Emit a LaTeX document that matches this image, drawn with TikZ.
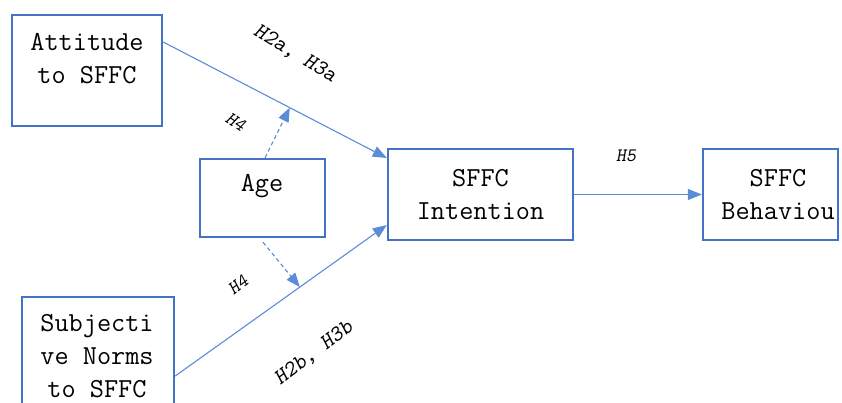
\documentclass[tikz,border=0pt]{standalone}
\usetikzlibrary{arrows.meta,calc}
\definecolor{boxblue}{HTML}{4472C4}
\definecolor{lineblue}{HTML}{5B8CD8}
\begin{document}
\begin{tikzpicture}[x=1pt,y=-1pt,
  box/.style={draw=boxblue,line width=2.4pt,inner sep=0pt},
  txt/.style={font=\ttfamily\fontsize{27.5}{33}\selectfont,align=center,inner sep=0pt},
  lab/.style={font=\ttfamily\slshape\fontsize{22}{24}\selectfont,inner sep=0pt},
  labs/.style={font=\ttfamily\slshape\fontsize{19}{20}\selectfont,inner sep=0pt},
  conn/.style={draw=lineblue,line width=1.1pt,-{Triangle[length=14pt,width=11pt]}},
  mod/.style={conn,dash pattern=on 4pt off 3pt}]
\clip (0,0) rectangle (842,403);

% boxes
\node[box,minimum width=150pt,minimum height=111pt] (att) at (87,70.5) {};
\node[box,minimum width=125pt,minimum height=78pt] (age) at (262.5,198) {};
\node[box,minimum width=185pt,minimum height=91pt] (int) at (480.5,194.5) {};
\node[box,minimum width=135pt,minimum height=91pt] (beh) at (770.5,194.5) {};
\node[box,minimum width=152pt,minimum height=111pt] (subj) at (98,352.5) {};

% box texts
\node[txt] (attT) at (87,58.5) {Attitude\\to SFFC};
\node[txt] (ageT) at (262,186) {Age};
\node[txt] (intT) at (480.5,194.5) {SFFC\\Intention};
\node[txt] (behT) at (778,194.5) {SFFC\\Behaviou};
\node[txt] (subjT) at (97,356) {Subjecti\\ve Norms\\to SFFC};

% connector end points
\coordinate (a1) at ($(att.east)+(0,-28.5)$);
\coordinate (a2) at ($(int.west)+(0,-36.5)$);
\coordinate (s1) at ($(subj.east)+(0,23.5)$);
\coordinate (s2) at ($(int.west)+(0,30.5)$);
\path (a1) -- (a2) coordinate[pos=0.566] (m1);
\path (s1) -- (s2) coordinate[pos=0.589] (m2);
\coordinate (g1) at ($(age.north)+(2.5,0)$);
\coordinate (g2) at ($(age.south)+(0.5,4)$);

% connectors
\draw[conn] (a1) -- (a2);
\draw[conn] (s1) -- (s2);
\draw[conn] (int.east) -- (beh.west);
\draw[mod] (g1) -- (m1);
\draw[mod] (g2) -- (m2);

% hypothesis labels
\node[lab,rotate=-31] (l1) at (295,54) {H2a, H3a};
\node[labs,rotate=-34] (l2) at (236,122) {H4};
\node[labs] (l3) at (626,156) {H5};
\node[labs,rotate=37] (l4) at (238,285) {H4};
\node[lab,rotate=37] (l5) at (314,353) {H2b, H3b};
\end{tikzpicture}
\end{document}
